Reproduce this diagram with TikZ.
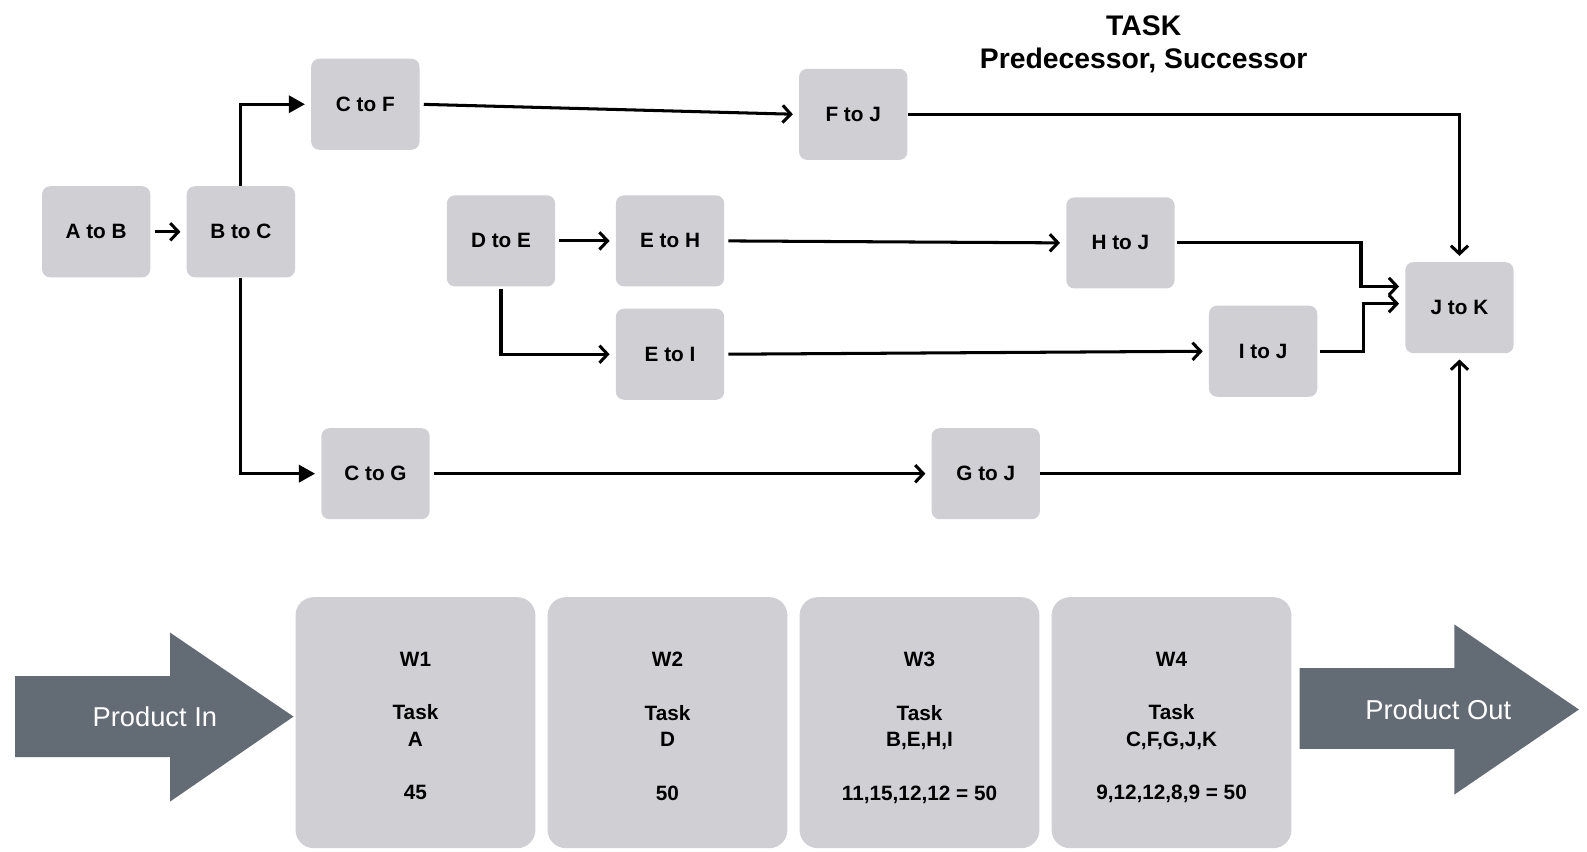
\documentclass[tikz,border=0pt]{standalone}
\usepackage{fontspec}
\setmainfont{Liberation Sans}
\usetikzlibrary{arrows.meta,calc}
\definecolor{boxgray}{RGB}{208,208,212}
\definecolor{slate}{RGB}{99,107,117}
\begin{document}
\begin{tikzpicture}[x=1pt,y=-1pt,
  task/.style={fill=boxgray, rounded corners=8pt, minimum width=107pt, minimum height=90pt,
    inner sep=0pt, font=\fontsize{20.5}{24}\selectfont\bfseries},
  link/.style={line width=3pt, -{Straight Barb[length=8pt,width=17pt]},
    shorten >=6pt, shorten <=4pt},
  branch/.style={line width=3pt, -{Triangle[length=16pt,width=17pt]}, shorten >=6pt},
  station/.style={fill=boxgray, rounded corners=18pt, minimum width=237pt, minimum height=248pt,
    inner sep=0pt},
  stationtext/.style={anchor=north, inner sep=0pt, align=center,
    font=\fontsize{20.5}{26}\selectfont\bfseries},
  flow/.style={fill=slate},
  flowtext/.style={text=white, font=\fontsize{27}{32}\selectfont},
  heading/.style={font=\fontsize{28}{33}\selectfont\bfseries, align=center}
]
\useasboundingbox (0,0) rectangle (1568,841);

% heading
\node[heading] (title) at (1130,44) {TASK\\Predecessor, Successor};

% task boxes
\node[task] (AB) at (95,229)   {A to B};
\node[task] (BC) at (238,229)  {B to C};
\node[task] (CF) at (361,103)  {C to F};
\node[task] (FJ) at (843,113)  {F to J};
\node[task] (DE) at (495,238)  {D to E};
\node[task] (EH) at (662,238)  {E to H};
\node[task] (HJ) at (1107,240) {H to J};
\node[task] (EI) at (662,350)  {E to I};
\node[task] (IJ) at (1248,347) {I to J};
\node[task] (JK) at (1442,304) {J to K};
\node[task] (CG) at (371,468)  {C to G};
\node[task] (GJ) at (974,468)  {G to J};

% entry points on the left side of J to K
\coordinate (JKa) at ($(JK.west)+(0,-21)$);
\coordinate (JKb) at ($(JK.west)+(0,-4)$);

% connectors
\draw[link] (AB.east) -- (BC.west);
\draw[branch] (BC.north) |- (CF.west);
\draw[branch] (BC.south) |- (CG.west);
\draw[link] (CF.east) -- (FJ.west);
\draw[link] (CG.east) -- (GJ.west);
\draw[link, shorten <=0pt] (FJ.east) -| (JK.north);
\draw[link] (DE.east) -- (EH.west);
\draw[link, shorten <=2pt] (DE.south) |- (EI.west);
\draw[link] (EH.east) -- (HJ.west);
\draw[link] (EI.east) -- (IJ.west);
\draw[link, shorten <=2pt] (HJ.east) -- ++(184,0) |- (JKa);
\draw[link, shorten <=2pt] (IJ.east) -- ++(45,0) |- (JKb);
\draw[link, shorten <=0pt] (GJ.east) -| (JK.south);

% product flow arrows
\fill[flow] (15,668) -- (168,668) -- (168,625) -- (290,708) -- (168,792) -- (168,748) -- (15,748) -- cycle;
\node[flowtext] (pin) at (153,708) {Product In};
\fill[flow] (1284,660) -- (1437,660) -- (1437,617) -- (1560,701) -- (1437,785) -- (1437,740) -- (1284,740) -- cycle;
\node[flowtext] (pout) at (1421,701) {Product Out};

% work stations
\node[station] (W1) at (410.5,714) {};
\node[station] (W2) at (659.5,714) {};
\node[station] (W3) at (908.5,714) {};
\node[station] (W4) at (1157.5,714) {};
\node[stationtext] (W1t) at (410.5,644) {W1\\[27pt]Task\\A\\[27pt]45};
\node[stationtext] (W2t) at (659.5,644) {W2\\[27pt]Task\\D\\[27pt]50};
\node[stationtext] (W3t) at (908.5,644) {W3\\[27pt]Task\\B,E,H,I\\[27pt]11,15,12,12 = 50};
\node[stationtext] (W4t) at (1157.5,644) {W4\\[27pt]Task\\C,F,G,J,K\\[27pt]9,12,12,8,9 = 50};
\end{tikzpicture}
\end{document}
